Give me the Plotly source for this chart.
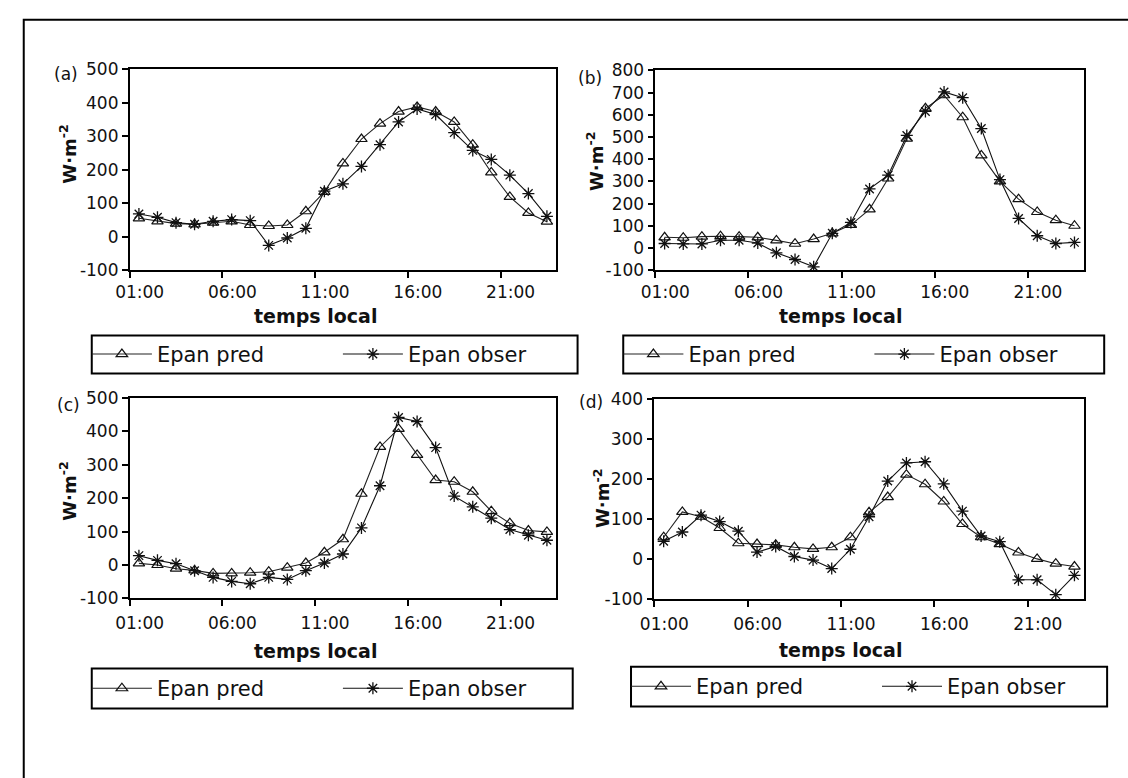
import plotly.graph_objects as go

# ---------------- data ----------------
hours = [1, 2, 3, 4, 5, 6, 7, 8, 9, 10, 11, 12, 13, 14, 15, 16, 17, 18, 19, 20, 21, 22, 23]
x_tick_hours = [1, 6, 11, 16, 21]
x_tick_labels = ["01:00", "06:00", "11:00", "16:00", "21:00"]

pred_a = [55, 46, 39, 37, 42, 46, 35, 32, 35, 76, 134, 219, 292, 338, 374, 388, 374, 343, 275, 192, 119, 71, 45]
obs_a = [68, 58, 42, 37, 46, 51, 48, -26, -4, 25, 136, 158, 210, 275, 343, 382, 365, 311, 258, 231, 184, 129, 61]

pred_b = [48, 46, 51, 53, 51, 48, 34, 19, 40, 66, 104, 174, 313, 493, 629, 688, 589, 417, 300, 220, 162, 125, 100]
obs_b = [20, 18, 18, 35, 35, 22, -22, -52, -85, 66, 115, 266, 328, 507, 615, 703, 677, 538, 308, 133, 55, 20, 25]

pred_c = [5, 0, -11, -16, -25, -25, -23, -20, -8, 6, 38, 77, 213, 353, 407, 329, 254, 249, 219, 161, 125, 103, 99]
obs_c = [28, 14, 4, -17, -37, -49, -56, -37, -43, -17, 6, 33, 111, 237, 441, 429, 351, 206, 174, 140, 106, 89, 74]

pred_d = [55, 118, 106, 78, 40, 38, 36, 30, 26, 30, 55, 117, 155, 211, 187, 144, 88, 55, 38, 17, 1, -11, -18]
obs_d = [45, 68, 110, 94, 70, 18, 32, 7, -2, -23, 25, 106, 195, 240, 243, 188, 120, 58, 44, -51, -51, -88, -40]

yticks_a = [-100, 0, 100, 200, 300, 400, 500]
yticks_b = [-100, 0, 100, 200, 300, 400, 500, 600, 700, 800]
yticks_c = [-100, 0, 100, 200, 300, 400, 500]
yticks_d = [-100, 0, 100, 200, 300, 400]

panel_labels = ["(a)", "(b)", "(c)", "(d)"]
series_names = ["Epan pred", "Epan obser"]
x_title = "temps local"
y_title = "<b>W·m<sup>-2</sup></b>"

# ---------------- layout helpers ----------------
W, H = 1128, 778
FONT = "DejaVu Sans"


def fx(p):
    return p / W


def fy(p):
    return 1 - p / H


panels = [
    dict(pred=pred_a, obs=obs_a, yt=yticks_a, box=(118, 557, 61, 267),
         lab=(53, 66), ytit=(55, 148), xtit=(309, 314), leg=(79, 579, 334, 373), stand=0),
    dict(pred=pred_b, obs=obs_b, yt=yticks_b, box=(659, 1100, 62, 267),
         lab=(592, 70), ytit=(597, 156), xtit=(850, 314), leg=(626, 1121, 334, 373), stand=0),
    dict(pred=pred_c, obs=obs_c, yt=yticks_c, box=(118, 557, 398, 604),
         lab=(55, 405), ytit=(55, 494), xtit=(309, 658), leg=(79, 574, 676, 717), stand=2),
    dict(pred=pred_d, obs=obs_d, yt=yticks_d, box=(658, 1100, 399, 605),
         lab=(593, 402), ytit=(604, 501), xtit=(850, 657), leg=(634, 1124, 674, 715), stand=2),
]

fig = go.Figure()
layout = dict(
    width=W, height=H,
    margin=dict(l=0, r=0, t=0, b=0),
    paper_bgcolor="white", plot_bgcolor="white",
    font=dict(family=FONT, color="#111111", size=16),
    showlegend=True,
    shapes=[], annotations=[],
)

for i, p in enumerate(panels):
    n = "" if i == 0 else str(i + 1)
    xa, ya = "x" + n, "y" + n
    leg = "legend" + n
    x0, x1, y0, y1 = p["box"]
    layout["xaxis" + n] = dict(
        domain=[fx(x0), fx(x1)], anchor=ya, range=[0.5, 23.5],
        tickmode="array", tickvals=[h - 0.5 for h in x_tick_hours], ticktext=x_tick_labels,
        ticks="outside", ticklen=6, tickwidth=1.5, tickcolor="black",
        ticklabelshift=10, ticklabelstandoff=p["stand"],
        showline=True, linecolor="black", linewidth=1.5, mirror=True,
        showgrid=False, zeroline=False, tickfont=dict(size=17, family=FONT, color="#111111"),
    )
    layout["yaxis" + n] = dict(
        domain=[fy(y1), fy(y0)], anchor=xa, range=[p["yt"][0], p["yt"][-1]],
        tickmode="array", tickvals=p["yt"], ticktext=[str(v) for v in p["yt"]],
        ticks="outside", ticklen=6, tickwidth=1.5, tickcolor="black",
        showline=True, linecolor="black", linewidth=1.5, mirror=True,
        showgrid=False, zeroline=False, tickfont=dict(size=17, family=FONT, color="#111111"),
    )
    lx0, lx1, ly0, ly1 = p["leg"]
    layout[leg] = dict(
        x=fx(lx0 - 5), y=fy((ly0 + ly1) / 2), xanchor="left", yanchor="middle",
        orientation="h", bgcolor="rgba(0,0,0,0)", borderwidth=0,
        font=dict(size=21, family=FONT, color="#111111"),
        itemwidth=60, entrywidth=176, traceorder="normal",
    )
    layout["shapes"].append(dict(type="rect", xref="paper", yref="paper",
                                 x0=fx(lx0), x1=fx(lx1), y0=fy(ly1), y1=fy(ly0),
                                 line=dict(color="black", width=2)))
    layout["annotations"] += [
        dict(text=panel_labels[i], x=fx(p["lab"][0]), y=fy(p["lab"][1]), xref="paper", yref="paper",
             showarrow=False, xanchor="center", yanchor="middle", font=dict(size=17, family=FONT)),
        dict(text=y_title, x=fx(p["ytit"][0]), y=fy(p["ytit"][1]), xref="paper", yref="paper",
             showarrow=False, xanchor="center", yanchor="middle", textangle=-90,
             font=dict(size=18, family=FONT)),
        dict(text="<b>" + x_title + "</b>", x=fx(p["xtit"][0]), y=fy(p["xtit"][1]), xref="paper", yref="paper",
             showarrow=False, xanchor="center", yanchor="middle", font=dict(size=19, family=FONT)),
    ]
    fig.add_trace(go.Scatter(
        x=hours, y=p["pred"], mode="lines+markers", name=series_names[0],
        xaxis=xa, yaxis=ya, legend=leg,
        line=dict(color="#222222", width=1.1),
        marker=dict(symbol="triangle-up-open", size=10, color="#111111", line=dict(width=1.2)),
    ))
    fig.add_trace(go.Scatter(
        x=hours, y=p["obs"], mode="lines+markers", name=series_names[1],
        xaxis=xa, yaxis=ya, legend=leg,
        line=dict(color="#111111", width=1.1),
        marker=dict(symbol="asterisk-open", size=10, color="#111111", line=dict(width=1.3)),
    ))

# outer frame (only left and top edges are visible in the reference)
layout["shapes"].append(dict(
    type="path", xref="paper", yref="paper",
    path=f"M {fx(9)},{fy(800)} L {fx(9)},{fy(10)} L {fx(1150)},{fy(10)}",
    line=dict(color="black", width=2)))

fig.update_layout(**layout)
fig.write_html("out.html")
